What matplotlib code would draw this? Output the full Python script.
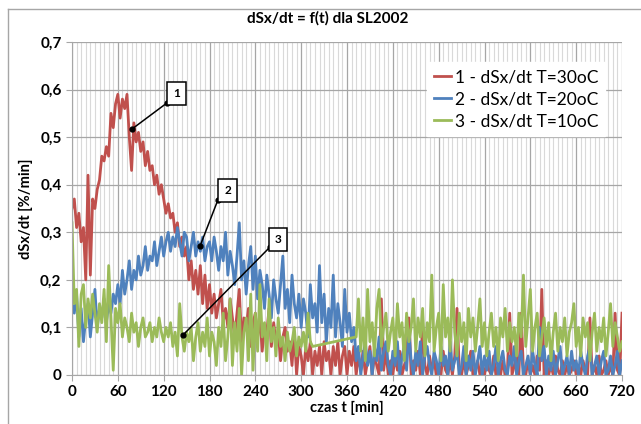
import numpy as np
import matplotlib
matplotlib.use('Agg')
import matplotlib.pyplot as plt
from matplotlib.ticker import MultipleLocator, FuncFormatter

# time axis (min), one reading every 3 minutes
t = np.arange(0, 721, 3)

# 1 - T=30oC
red_y = [
    0.35, 0.37, 0.31, 0.34, 0.28, 0.31, 0.20, 0.42, 0.21, 0.37, 0.35, 0.39, 0.41, 0.46, 0.45, 0.48, 0.46, 0.55, 0.52, 0.57,
    0.59, 0.54, 0.58, 0.56, 0.59, 0.50, 0.43, 0.53, 0.49, 0.51, 0.47, 0.49, 0.44, 0.47, 0.43, 0.44, 0.40, 0.42, 0.38, 0.40,
    0.37, 0.34, 0.36, 0.33, 0.34, 0.30, 0.32, 0.27, 0.29, 0.25, 0.27, 0.20, 0.24, 0.18, 0.22, 0.17, 0.23, 0.15, 0.21, 0.14,
    0.19, 0.13, 0.17, 0.12, 0.15, 0.18, 0.11, 0.14, 0.10, 0.16, 0.12, 0.08, 0.13, 0.18, 0.07, 0.12, 0.10, 0.14, 0.06, 0.11,
    0.13, 0.08, 0.12, 0.05, 0.10, 0.09, 0.14, 0.06, 0.11, 0.07, 0.09, 0.03, 0.08, 0.10, 0.05, 0.07, 0.02, 0.09, 0.00, 0.06,
    0.04, 0.00, 0.06, 0.03, 0.07, 0.00, 0.05, 0.02, 0.06, 0.00, 0.07, 0.03, 0.05, 0.00, 0.06, 0.02, 0.07, 0.00, 0.04, 0.06,
    0.00, 0.05, 0.02, 0.06, 0.00, 0.04, 0.01, 0.05, 0.00, 0.03, 0.06, 0.00, 0.04, 0.02, 0.00, 0.16, 0.01, 0.05, 0.00, 0.03,
    0.00, 0.04, 0.01, 0.05, 0.00, 0.02, 0.04, 0.12, 0.00, 0.03, 0.01, 0.05, 0.00, 0.10, 0.02, 0.00, 0.04, 0.01, 0.03, 0.00,
    0.02, 0.00, 0.05, 0.01, 0.00, 0.03, 0.00, 0.04, 0.14, 0.01, 0.00, 0.03, 0.00, 0.02, 0.05, 0.00, 0.01, 0.03, 0.00, 0.02,
    0.00, 0.03, 0.01, 0.00, 0.04, 0.00, 0.02, 0.00, 0.03, 0.00, 0.01, 0.13, 0.00, 0.02, 0.04, 0.00, 0.13, 0.01, 0.00, 0.03,
    0.00, 0.02, 0.00, 0.04, 0.01, 0.18, 0.00, 0.03, 0.00, 0.02, 0.00, 0.04, 0.01, 0.00, 0.03, 0.00, 0.02, 0.00, 0.01, 0.03,
    0.00, 0.02, 0.00, 0.03, 0.01, 0.00, 0.12, 0.00, 0.02, 0.00, 0.04, 0.00, 0.01, 0.03, 0.00, 0.02, 0.00, 0.13, 0.01, 0.00,
    0.13,
]

# 2 - T=20oC
blue_y = [
    0.15, 0.13, 0.17, 0.08, 0.14, 0.07, 0.12, 0.15, 0.08, 0.13, 0.18, 0.10, 0.14, 0.12, 0.16, 0.11, 0.15, 0.13, 0.17, 0.15,
    0.19, 0.15, 0.22, 0.17, 0.20, 0.24, 0.18, 0.22, 0.20, 0.25, 0.21, 0.23, 0.27, 0.22, 0.25, 0.24, 0.28, 0.23, 0.26, 0.29,
    0.25, 0.28, 0.30, 0.26, 0.29, 0.27, 0.31, 0.28, 0.25, 0.30, 0.29, 0.24, 0.27, 0.30, 0.25, 0.28, 0.26, 0.29, 0.24, 0.27,
    0.28, 0.24, 0.29, 0.26, 0.22, 0.27, 0.24, 0.30, 0.21, 0.26, 0.23, 0.19, 0.25, 0.32, 0.20, 0.24, 0.17, 0.23, 0.27, 0.18,
    0.25, 0.16, 0.22, 0.19, 0.14, 0.21, 0.17, 0.12, 0.20, 0.16, 0.13, 0.19, 0.25, 0.14, 0.18, 0.11, 0.21, 0.15, 0.12, 0.17,
    0.10, 0.16, 0.13, 0.08, 0.19, 0.12, 0.15, 0.09, 0.23, 0.11, 0.17, 0.07, 0.14, 0.10, 0.21, 0.08, 0.15, 0.11, 0.06, 0.18,
    0.09, 0.13, 0.07, 0.10, 0.03, 0.06, 0.00, 0.04, 0.07, 0.02, 0.05, 0.00, 0.06, 0.03, 0.08, 0.01, 0.05, 0.07, 0.02, 0.00,
    0.05, 0.02, 0.07, 0.00, 0.04, 0.06, 0.01, 0.09, 0.03, 0.00, 0.05, 0.02, 0.07, 0.00, 0.04, 0.06, 0.02, 0.00, 0.05, 0.03,
    0.00, 0.06, 0.02, 0.04, 0.00, 0.07, 0.01, 0.03, 0.05, 0.00, 0.02, 0.06, 0.00, 0.04, 0.01, 0.05, 0.00, 0.03, 0.06, 0.00,
    0.04, 0.01, 0.05, 0.00, 0.02, 0.06, 0.00, 0.03, 0.05, 0.01, 0.00, 0.04, 0.02, 0.06, 0.00, 0.03, 0.05, 0.00, 0.02, 0.04,
    0.00, 0.05, 0.02, 0.00, 0.10, 0.03, 0.06, 0.00, 0.04, 0.01, 0.05, 0.00, 0.03, 0.06, 0.00, 0.02, 0.04, 0.00, 0.05, 0.01,
    0.03, 0.00, 0.05, 0.02, 0.00, 0.04, 0.06, 0.00, 0.02, 0.04, 0.00, 0.03, 0.05, 0.00, 0.01, 0.04, 0.00, 0.02, 0.05, 0.00,
    0.03,
]

# 3 - T=10oC, no readings between 315 and 372 min
green_t = np.concatenate([np.arange(0, 316, 3), np.arange(372, 721, 3)])
green_y = [
    0.32, 0.15, 0.18, 0.06, 0.17, 0.19, 0.10, 0.16, 0.12, 0.17, 0.13, 0.09, 0.15, 0.11, 0.18, 0.07, 0.23, 0.12, 0.01, 0.14,
    0.11, 0.15, 0.08, 0.12, 0.10, 0.07, 0.13, 0.09, 0.11, 0.06, 0.10, 0.12, 0.08, 0.09, 0.11, 0.07, 0.10, 0.08, 0.12, 0.09,
    0.07, 0.10, 0.08, 0.11, 0.06, 0.09, 0.04, 0.15, 0.08, 0.05, 0.09, 0.07, 0.10, 0.03, 0.08, 0.11, 0.05, 0.09, 0.06, 0.12,
    0.04, 0.09, 0.07, 0.02, 0.10, 0.06, 0.13, 0.03, 0.08, 0.16, 0.02, 0.11, 0.05, 0.14, 0.00, 0.09, 0.12, 0.03, 0.17, 0.01,
    0.13, 0.05, 0.19, 0.08, 0.11, 0.03, 0.16, 0.07, 0.10, 0.04, 0.12, 0.06, 0.08, 0.03, 0.09, 0.05, 0.07, 0.10, 0.04, 0.08,
    0.06, 0.09, 0.05, 0.13, 0.07, 0.06,
    0.08, 0.16, 0.05, 0.12, 0.03, 0.18, 0.07, 0.11, 0.04, 0.14, 0.18, 0.06, 0.10, 0.13, 0.05, 0.09,
    0.12, 0.04, 0.15, 0.08, 0.11, 0.03, 0.13, 0.07, 0.10, 0.16, 0.05, 0.12, 0.08, 0.14, 0.04, 0.11, 0.07, 0.21, 0.05, 0.10,
    0.13, 0.03, 0.19, 0.08, 0.12, 0.05, 0.20, 0.09, 0.04, 0.13, 0.07, 0.11, 0.03, 0.14, 0.08, 0.12, 0.05, 0.10, 0.16, 0.06,
    0.11, 0.04, 0.09, 0.13, 0.06, 0.10, 0.03, 0.12, 0.08, 0.14, 0.05, 0.11, 0.07, 0.10, 0.04, 0.13, 0.08, 0.21, 0.06, 0.12,
    0.18, 0.05, 0.10, 0.13, 0.04, 0.08, 0.12, 0.06, 0.11, 0.03, 0.09, 0.13, 0.05, 0.10, 0.07, 0.12, 0.04, 0.09, 0.11, 0.15,
    0.06, 0.10, 0.04, 0.12, 0.08, 0.11, 0.03, 0.09, 0.13, 0.05, 0.10, 0.07, 0.12, 0.04, 0.09, 0.15, 0.06, 0.11, 0.08, 0.05,
    0.07,
]

labels = ['1 - dSx/dt T=30oC', '2 - dSx/dt T=20oC', '3 - dSx/dt T=10oC']
colors = ['#C0504D', '#4F81BD', '#9BBB59']

# callout labels: (text, point on curve, box corner, box centre)
callouts = [
    ('1', (78.5, 0.517), (124.4, 0.572), (136.8, 0.591)),
    ('2', (167.6, 0.271), (191.0, 0.368), (203.6, 0.387)),
    ('3', (145.3, 0.084), (259.2, 0.269), (269.7, 0.284)),
]

plt.rcParams['font.family'] = ['Lato', 'DejaVu Sans']

fig = plt.figure(figsize=(6.41, 4.24), dpi=100)
ax = fig.add_axes([72 / 641, 1 - 375 / 424, 550 / 641, 333 / 424])

# chart area frame (Excel style)
fig.add_artist(plt.Line2D([8 / 641, 8 / 641], [0, 1 - 9 / 424], color='#A6A6A6', lw=1))
fig.add_artist(plt.Line2D([8 / 641, 1], [1 - 9 / 424, 1 - 9 / 424], color='#A6A6A6', lw=1))

ax.plot(t, red_y, color=colors[0], lw=2.0, label=labels[0])
ax.plot(t, blue_y, color=colors[1], lw=2.0, label=labels[1])
ax.plot(green_t, green_y, color=colors[2], lw=2.0, label=labels[2])

ax.set_xlim(0, 720)
ax.set_ylim(0, 0.7)
ax.xaxis.set_major_locator(MultipleLocator(60))
ax.xaxis.set_minor_locator(MultipleLocator(6))
ax.yaxis.set_major_locator(MultipleLocator(0.1))
ax.yaxis.set_major_formatter(FuncFormatter(lambda v, p: '0' if abs(v) < 1e-9 else f'{v:.1f}'.replace('.', ',')))

ax.grid(which='major', color='#A6A6A6', lw=0.9)
ax.grid(which='minor', axis='x', color='#D9D9D9', lw=0.8)
ax.set_axisbelow(True)
for side in ['top', 'right']:
    ax.spines[side].set_visible(False)
for side in ['left', 'bottom']:
    ax.spines[side].set_color('#A6A6A6')
ax.tick_params(which='major', length=4, color='#A6A6A6', labelsize=11)
ax.tick_params(which='minor', length=0)
for lbl in ax.get_xticklabels() + ax.get_yticklabels():
    lbl.set_fontweight('bold')

ax.set_xlabel('czas t [min]', fontsize=10.5, fontweight='bold', labelpad=1)
ax.set_ylabel('dSx/dt [%/min]', fontsize=10.5, fontweight='bold', labelpad=5)
fig.text(328 / 641, 1 - 18 / 424, 'dSx/dt = f(t) dla SL2002', ha='center', va='center',
         fontsize=11, fontweight='bold')

leg = ax.legend(loc='upper right', bbox_to_anchor=(0.985, 0.965), fontsize=12.5, frameon=True,
                fancybox=False, edgecolor='white', framealpha=1, handlelength=1.0,
                handletextpad=0.2, labelspacing=0.35, borderpad=0.4)

for txt, pt, corner, centre in callouts:
    ax.plot([pt[0], corner[0]], [pt[1], corner[1]], color='black', lw=1.1,
            marker='o', markersize=3.5, zorder=5)
    ax.text(centre[0], centre[1], txt, ha='center', va='center', fontsize=8.5, fontweight='bold',
            bbox=dict(boxstyle='square,pad=0.5', fc='white', ec='black', lw=1.1), zorder=6)

fig.savefig('out.png', dpi=100)
